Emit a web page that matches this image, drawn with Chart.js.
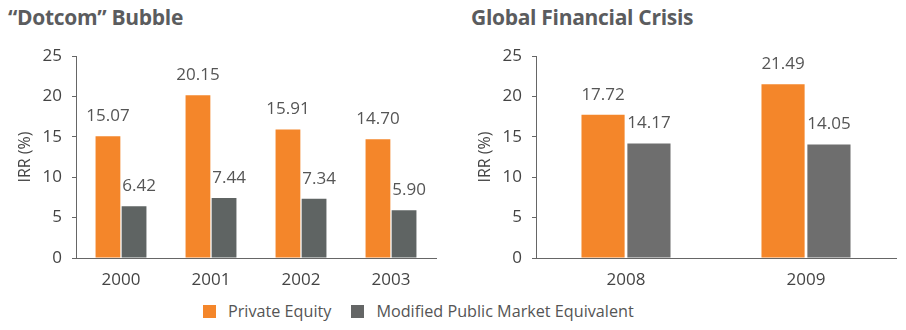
<!DOCTYPE html>
<html>
<head>
<meta charset="utf-8">
<script src="https://cdn.jsdelivr.net/npm/chart.js@4/dist/chart.umd.min.js"></script>
<style>
  body { margin: 0; background: #fff; font-family: "Open Sans", sans-serif; }
  #wrap { position: relative; width: 906px; height: 330px; overflow: hidden; }
  .title { position: absolute; top: 3px; font-size: 21px; font-weight: 700; color: #5b5c5e; letter-spacing: -0.3px; }
  .box { position: absolute; top: 0; height: 300px; }
  #legend { position: absolute; top: 300px; left: 203px; font-size: 16.2px; color: #555; display: flex; align-items: center; }
  #legend span.sw { display: inline-block; width: 13px; height: 13px; margin-right: 12px; }
  #legend span.lb { margin-right: 20px; }
</style>
</head>
<body>
<div id="wrap">
  <div class="title" style="left:8px">“Dotcom” Bubble</div>
  <div class="title" style="left:471px">Global Financial Crisis</div>
  <div class="box" style="left:0;width:440px"><canvas id="left"></canvas></div>
  <div class="box" style="left:450px;width:450px"><canvas id="right"></canvas></div>
  <div id="legend">
    <span class="sw" style="background:#f4862a"></span><span class="lb">Private Equity</span>
    <span class="sw" style="background:#646666"></span><span class="lb">Modified Public Market Equivalent</span>
  </div>
</div>
<script>
// Data
const dotcomYears = ['2000', '2001', '2002', '2003'];
const dotcomPE = [15.07, 20.15, 15.91, 14.70];
const dotcomPME = [6.42, 7.44, 7.34, 5.90];

const gfcYears = ['2008', '2009'];
const gfcPE = [17.72, 21.49];
const gfcPME = [14.17, 14.05];

const yTicks = [0, 5, 10, 15, 20, 25];

const ORANGE = '#f4862a';
const font = { family: '"Open Sans", sans-serif', size: 17 };

// value labels above bars (labelDx nudges a dataset's labels sideways)
const valueLabels = {
  id: 'valueLabels',
  afterDatasetsDraw(chart) {
    const ctx = chart.ctx;
    ctx.save();
    ctx.font = '17px "Open Sans", sans-serif';
    ctx.fillStyle = '#555';
    ctx.textAlign = 'center';
    ctx.textBaseline = 'middle';
    chart.data.datasets.forEach((ds, i) => {
      const dx = ds.labelDx || 0;
      chart.getDatasetMeta(i).data.forEach((bar, j) => {
        ctx.fillText(ds.data[j].toFixed(2), bar.x + dx, bar.y - 20);
      });
    });
    ctx.restore();
  }
};

function makeChart(id, labels, pe, pme, gray, opts) {
  const ctx = document.getElementById(id).getContext('2d');
  return new Chart(ctx, {
    type: 'bar',
    data: {
      labels: labels,
      datasets: [
        { label: 'Private Equity', data: pe, backgroundColor: ORANGE,
          categoryPercentage: opts.cat, barPercentage: opts.bar },
        { label: 'Modified Public Market Equivalent', data: pme, backgroundColor: gray,
          categoryPercentage: opts.cat, barPercentage: opts.bar, labelDx: opts.dx }
      ]
    },
    options: {
      responsive: true,
      maintainAspectRatio: false,
      animation: false,
      layout: { padding: { top: 56, right: 4, left: 0, bottom: 0 } },
      plugins: { legend: { display: false }, tooltip: { enabled: false } },
      scales: {
        x: {
          grid: { display: false, drawTicks: false },
          border: { display: true, color: '#666', width: 1 },
          ticks: { font: font, color: '#444', padding: 12 },
          afterFit: s => { s.height = 42; }
        },
        y: {
          min: 0, max: 25,
          afterBuildTicks: s => { s.ticks = yTicks.map(v => ({ value: v })); },
          grid: { drawOnChartArea: false, drawTicks: true, tickLength: 4, color: '#666' },
          border: { display: true, color: '#666', width: 1 },
          ticks: { font: font, color: '#444', padding: 10 },
          title: { display: true, text: 'IRR (%)', font: { family: font.family, size: 16 }, color: '#444', padding: { top: opts.titlePad, bottom: 0 } },
          afterFit: s => { s.width = opts.yw; }
        }
      }
    },
    plugins: [valueLabels]
  });
}

makeChart('left', dotcomYears, dotcomPE, dotcomPME, '#5f6463', { cat: 0.58, bar: 0.95, yw: 76, titlePad: 16, dx: 5 });
makeChart('right', gfcYears, gfcPE, gfcPME, '#6e6e6e', { cat: 0.51, bar: 0.94, yw: 86, titlePad: 26, dx: 0 });
</script>
</body>
</html>
